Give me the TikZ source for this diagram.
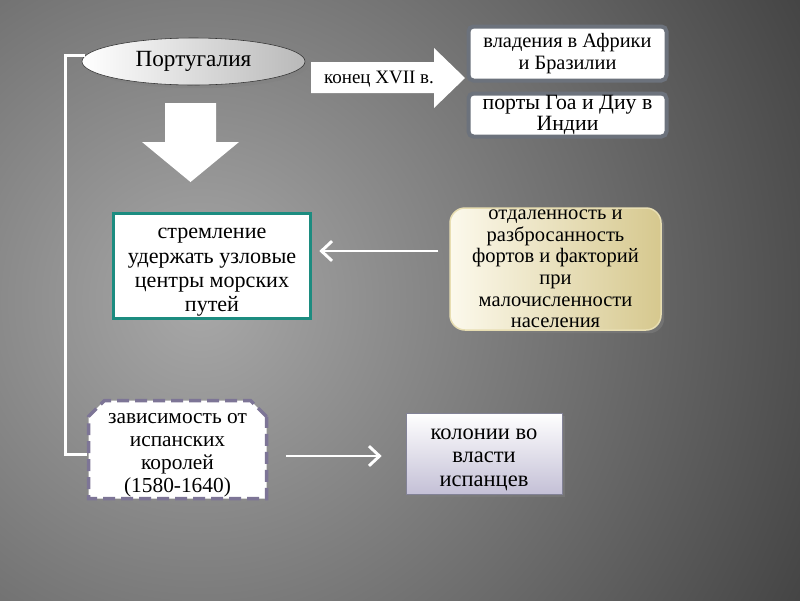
\documentclass[tikz,border=0pt]{standalone}
\usepackage{fontspec}
\setmainfont{Liberation Serif}
\usepackage{tikz}
\usetikzlibrary{shapes,shapes.geometric,shapes.misc,arrows.meta,calc,shadows}
\definecolor{bglight}{RGB}{168,168,168}
\definecolor{bgdark}{RGB}{54,54,54}
\definecolor{boxrim}{RGB}{108,114,124}
\definecolor{aimteal}{RGB}{28,140,128}
\definecolor{beigelight}{RGB}{252,249,236}
\definecolor{beigedark}{RGB}{214,200,142}
\definecolor{beigerim}{RGB}{232,222,178}
\definecolor{dashlilac}{RGB}{125,117,150}
\definecolor{lavbox}{RGB}{196,192,214}
\definecolor{lavrim}{RGB}{130,130,150}
\newdimen\px
\px=0.025cm
\newcommand{\lift}[1]{\rule{0pt}{#1}}

\begin{document}
\begin{tikzpicture}[
    x=0.025cm, y=-0.025cm,
    every node/.style={align=center, inner sep=0pt},
    oval/.style={ellipse, draw=gray!40!black, left color=white, right color=gray!55,
                 minimum width=223\px, minimum height=47\px,
                 drop shadow={opacity=0.45}, font=\fontsize{16.5}{19}\selectfont},
    whitebox/.style={rectangle, rounded corners=5\px, draw=boxrim, line width=4\px,
                     fill=white, minimum width=198\px},
    aimbox/.style={rectangle, draw=aimteal, line width=3.5\px, fill=white,
                   minimum width=197\px, minimum height=105\px,
                   font=\fontsize{15.7}{17.3}\selectfont},
    factbox/.style={rectangle, rounded corners=15\px, draw=beigerim, line width=1.5\px,
                    left color=beigelight, right color=beigedark,
                    minimum width=211\px, minimum height=122\px,
                    drop shadow={opacity=0.55}, font=\fontsize{14.6}{15.3}\selectfont},
    dashbox/.style={chamfered rectangle, chamfered rectangle corners={north west,north east},
                    chamfered rectangle xsep=8\px, chamfered rectangle ysep=8\px,
                    draw=dashlilac, line width=3.5\px, dash pattern=on 8.5pt off 4.3pt,
                    fill=white, minimum width=178\px, minimum height=98\px},
    dashtext/.style={font=\fontsize{15.2}{16.4}\selectfont},
    resbox/.style={rectangle, draw=lavrim, line width=0.8\px, top color=white, bottom color=lavbox,
                   minimum width=156\px, minimum height=81\px,
                   drop shadow={opacity=0.5}, font=\fontsize{16}{17}\selectfont},
    fat/.style={fill=white},
    link/.style={draw=white, line width=2.1pt},
    arrow/.style={-{Straight Barb[length=7.5pt, width=14pt]}, draw=white, line width=2.1pt}
]

% background
\useasboundingbox (0,0) rectangle (800,600);
\begin{scope}
  \clip (0,0) rectangle (800,600);
  \fill[bgdark] (0,0) rectangle (800,600);
  \shade[inner color=bglight, outer color=bgdark] (200,300) circle (770);
\end{scope}

\node[oval]                                 (port) at (193.5,61.5) {Португалия};
\node[whitebox, minimum height=54\px, font=\fontsize{14.5}{15.5}\selectfont]
                                            (afr)  at (567.5,53.5) {владения в Африки\\и Бразилии};
\node[whitebox, minimum height=43\px, font=\fontsize{15.5}{17}\selectfont]
                                            (ind)  at (567.5,115)  {порты Гоа и Диу в\\[-2pt]Индии};
\node[aimbox]                               (aim)  at (212,266)    {\lift{16.5pt}стремление\\удержать узловые\\центры морских\\путей};
\node[factbox]                              (dist) at (555.5,269)  {отдаленность и\\разбросанность\\фортов и факторий\\при\\малочисленности\\населения};
\node[dashbox, dashtext]                    (dep)  at (177.5,449.5) {\phantom{(1580-1640)}};
\node[dashtext]                             (deptxt) at (177.5,455) {зависимость от\\испанских\\королей\\(1580-1640)};
\node[resbox]                               (col)  at (484,453.5)  {\lift{16.5pt}колонии во\\власти\\испанцев};

% big arrows
\fill[fat] (311,62) -- (434,62) -- (434,48) -- (465,78) -- (434,108) -- (434,93) -- (311,93) -- cycle;
\node[font=\fontsize{13.5}{15}\selectfont] (late) at (379,79) {конец XVII в.};
\fill[fat] (165,103) -- (216,103) -- (216,142) -- (239,142) -- (190.5,182) -- (142,142) -- (165,142) -- cycle;

% arrow levels
\coordinate (midlvl) at (0,251);
\coordinate (lowlvl) at (0,456);

% Arrows
\draw[link] (port.177) -- ++(-19,0) |- ([yshift=-1.3mm]dep.west);
\draw[arrow, shorten <=7.8pt, shorten >=5pt] (dist.west |- midlvl) -- (aim.east |- midlvl);
\draw[arrow, shorten <=12.8pt, shorten >=17pt] (dep.east |- lowlvl) -- (col.west |- lowlvl);

\end{tikzpicture}
\end{document}
